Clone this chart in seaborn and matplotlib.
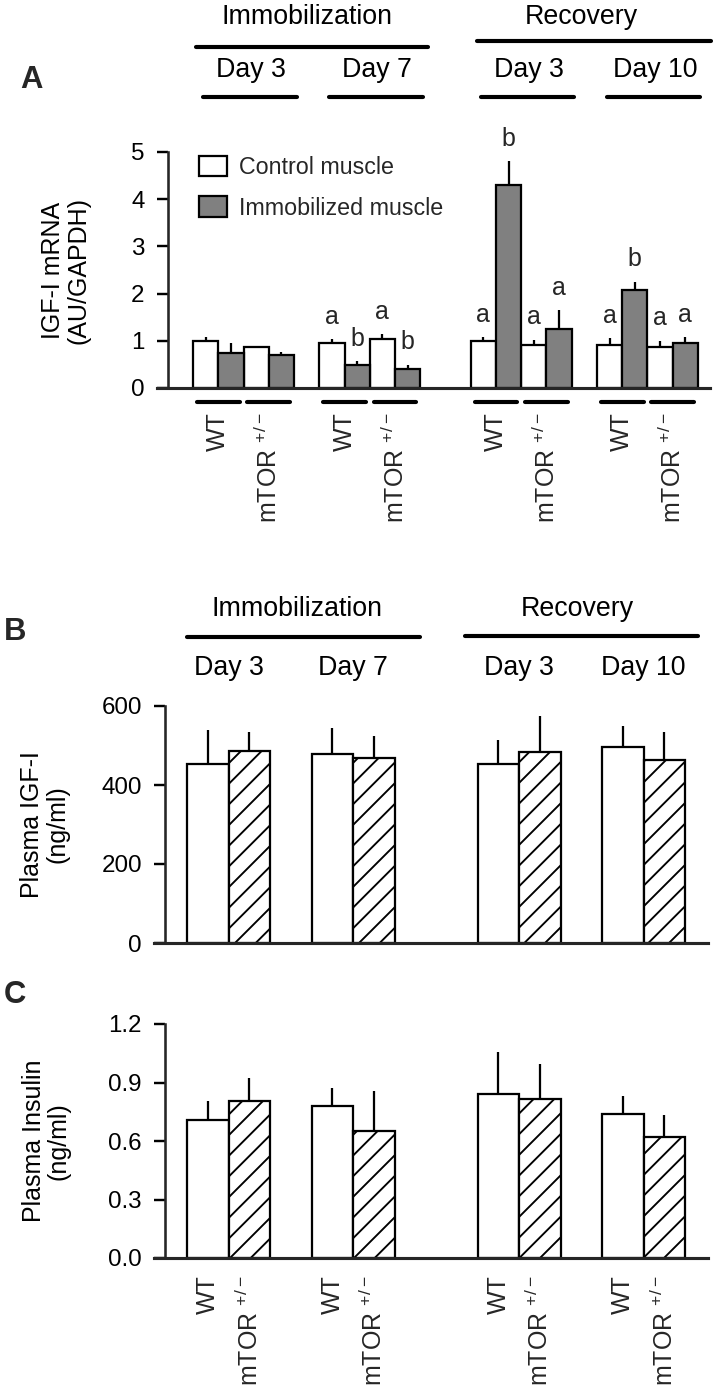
import matplotlib
matplotlib.use("Agg")
import matplotlib.pyplot as plt
import seaborn as sns
import pandas as pd
from matplotlib import font_manager
from matplotlib.patches import Patch
from matplotlib.transforms import blended_transform_factory

# ---- data ----
periods = ["Immobilization", "Recovery"]
days = ["Day 3", "Day 7", "Day 3", "Day 10"]
genotypes = ["WT", "mTOR $^{+/-}$"]
conditions = ["Control muscle", "Immobilized muscle"]

# A: IGF-I mRNA, order = (day, genotype): D3 WT, D3 mTOR, D7 WT, D7 mTOR, R3 WT, R3 mTOR, R10 WT, R10 mTOR
mrna_ctrl = [1.00, 0.87, 0.96, 1.03, 0.99, 0.92, 0.92, 0.86]
mrna_ctrl_err = [0.08, 0.03, 0.07, 0.11, 0.09, 0.10, 0.14, 0.14]
mrna_immob = [0.74, 0.70, 0.49, 0.40, 4.31, 1.24, 2.08, 0.96]
mrna_immob_err = [0.21, 0.07, 0.08, 0.09, 0.49, 0.41, 0.17, 0.12]
mrna_ctrl_letters = ["", "", "a", "a", "a", "a", "a", "a"]
mrna_immob_letters = ["", "", "b", "b", "b", "a", "b", "a"]

# B: plasma IGF-I (ng/ml), one value per day
igf_wt = [453, 478, 453, 495]
igf_wt_err = [85, 67, 62, 54]
igf_mtor = [485, 468, 484, 463]
igf_mtor_err = [48, 57, 90, 72]

# C: plasma insulin (ng/ml)
ins_wt = [0.71, 0.78, 0.84, 0.74]
ins_wt_err = [0.095, 0.093, 0.216, 0.092]
ins_mtor = [0.806, 0.649, 0.814, 0.62]
ins_mtor_err = [0.116, 0.207, 0.183, 0.114]

# ---- style ----
W, H, DPI = 718, 1392, 124
sns.set_theme(style="ticks")
names = {f.name for f in font_manager.fontManager.ttflist}
NARROW = "Liberation Sans Narrow" if "Liberation Sans Narrow" in names else "Liberation Sans"
HEAD = 15.5 if NARROW == "Liberation Sans" else 17.5
LEG = 13.5 if NARROW == "Liberation Sans" else 15.5
plt.rcParams["font.family"] = ["Liberation Sans", "DejaVu Sans"]
plt.rcParams["mathtext.fontset"] = "custom"
plt.rcParams["mathtext.rm"] = "Liberation Sans"
plt.rcParams["mathtext.default"] = "rm"
plt.rcParams["hatch.linewidth"] = 1.1
plt.rcParams["hatch.color"] = "black"

fig = plt.figure(figsize=(W / DPI, H / DPI), dpi=DPI)
fig.patch.set_facecolor("white")


def box(left, right, top, bottom):
    return [left / W, 1 - bottom / H, (right - left) / W, (bottom - top) / H]


def fy(ypx):
    return 1 - ypx / H


def style_axis(ax, spine_x, ymax, yticks, ylabel, label_x, fmt="{:g}"):
    ax.set_facecolor("white")
    sns.despine(ax=ax)
    ax.spines["left"].set_position(("data", spine_x))
    ax.spines["left"].set_bounds(0, ymax)
    ax.spines["left"].set_linewidth(1.5)
    ax.spines["bottom"].set_linewidth(1.8)
    ax.set_ylim(0, ymax)
    ax.set_yticks(yticks)
    ax.set_yticklabels([fmt.format(t) for t in yticks])
    ax.tick_params(axis="y", direction="out", length=6.5, width=1.4, pad=7,
                   labelsize=14, colors="black")
    ax.set_ylabel(ylabel, fontsize=14.5, linespacing=1.05, color="black")
    ax.yaxis.set_label_coords(label_x, 0.5)
    ax.set_xlabel("")


def header(ax, xs, ypx, labels, size):
    tr = blended_transform_factory(ax.transData, fig.transFigure)
    for x, lab in zip(xs, labels):
        ax.text(x, fy(ypx), lab, transform=tr, ha="center", va="center",
                fontsize=size, family=NARROW, color="black")


def hline(ax, x0, x1, ypx, lw=2.4):
    tr = blended_transform_factory(ax.transData, fig.transFigure)
    ax.plot([x0, x1], [fy(ypx), fy(ypx)], transform=tr, color="black", lw=lw,
            solid_capstyle="round", clip_on=False)


# ================= Panel A =================
A_STARTS = [0, 5, 11, 16]
rows = []
for d in range(4):
    for g in range(2):
        i = d * 2 + g
        for c, (vals, errs, lets) in enumerate([(mrna_ctrl, mrna_ctrl_err, mrna_ctrl_letters),
                                                (mrna_immob, mrna_immob_err, mrna_immob_letters)]):
            rows.append(dict(pos=A_STARTS[d] + 2 * g + c + 0.5, value=vals[i], err=errs[i],
                             condition=conditions[c], letter=lets[i]))
dfa = pd.DataFrame(rows)

axA = fig.add_axes(box(157, 710, 152, 388))
sns.barplot(data=dfa, x="pos", y="value", hue="condition", hue_order=conditions,
            palette={"Control muscle": "white", "Immobilized muscle": "#808080"},
            native_scale=True, width=1, dodge=False, errorbar=None, saturation=1,
            edgecolor="black", linewidth=1.3, legend=False, ax=axA)
axA.vlines(dfa["pos"], dfa["value"], dfa["value"] + dfa["err"], color="black", lw=1.3, zorder=3)
for _, r in dfa.iterrows():
    if r["letter"]:
        axA.annotate(r["letter"], (r["pos"], r["value"] + r["err"]), xytext=(0, 13),
                     textcoords="offset points", ha="center", va="center",
                     fontsize=14.5, family=NARROW)
axA.set_xlim(-1.43, 20.48)
style_axis(axA, -1.0, 5, [0, 1, 2, 3, 4, 5], "IGF-I mRNA\n(AU/GAPDH)", -0.121)
pair_centers = [s + 1 + 2 * g for s in A_STARTS for g in range(2)]
axA.set_xticks(pair_centers)
axA.set_xticklabels(genotypes * 4)
axA.tick_params(axis="x", length=0, pad=14, labelsize=14.5, labelrotation=90)
for c in pair_centers:
    axA.plot([c - 0.85, c + 0.85], [-0.059, -0.059], transform=axA.get_xaxis_transform(),
             color="black", lw=2.4, solid_capstyle="round", clip_on=False)
# headers
header(axA, [4.5, 15.4], 17, periods, HEAD)
hline(axA, 0.1, 9.3, 47)
hline(axA, 11.25, 20.5, 41)
header(axA, [s + 2.3 for s in A_STARTS], 70, days, HEAD)
for s in A_STARTS:
    hline(axA, s + 0.4, s + 4.1, 97)
leg_handles = [Patch(facecolor="white", edgecolor="black", linewidth=1.3),
               Patch(facecolor="#808080", edgecolor="black", linewidth=1.3)]
axA.legend(leg_handles, conditions, loc="upper left", bbox_to_anchor=(0.076, 0.985),
           frameon=False, prop={"family": NARROW, "size": LEG}, handlelength=1.2,
           handleheight=1.0, handletextpad=0.5, labelspacing=0.75, borderpad=0,
           borderaxespad=0)
fig.text(31 / W, fy(80), "A", ha="center", va="center", fontsize=18, fontweight="bold",
         family=NARROW)

# ================= Panels B and C =================
P_STARTS = [0, 3, 7, 10]


def pair_frame(wt, wt_err, mt, mt_err):
    out = []
    for d in range(4):
        out.append(dict(pos=P_STARTS[d] + 0.5, value=wt[d], err=wt_err[d], genotype="WT"))
        out.append(dict(pos=P_STARTS[d] + 1.5, value=mt[d], err=mt_err[d], genotype="mTOR"))
    return pd.DataFrame(out)


def pair_bars(ax, df):
    sns.barplot(data=df, x="pos", y="value", hue="genotype", hue_order=["WT", "mTOR"],
                palette={"WT": "white", "mTOR": "white"}, native_scale=True, width=1,
                dodge=False, errorbar=None, saturation=1, edgecolor="black",
                linewidth=1.3, legend=False, ax=ax)
    for p in ax.containers[1]:
        p.set_hatch("//")
    ax.vlines(df["pos"], df["value"], df["value"] + df["err"], color="black", lw=1.3, zorder=3)
    ax.set_xlim(-0.8, 12.55)


dfb = pair_frame(igf_wt, igf_wt_err, igf_mtor, igf_mtor_err)
axB = fig.add_axes(box(154, 708, 706, 943))
pair_bars(axB, dfb)
style_axis(axB, -0.53, 600, [0, 200, 400, 600], "Plasma IGF-I\n(ng/ml)", -0.153)
axB.set_xticks([])
header(axB, [2.65, 9.4], 609, periods, HEAD)
hline(axB, 0.0, 5.6, 637)
hline(axB, 6.7, 12.3, 636)
header(axB, [s + 1 for s in P_STARTS], 668, days, HEAD)
fig.text(15 / W, fy(632), "B", ha="center", va="center", fontsize=18, fontweight="bold",
         family=NARROW)

dfc = pair_frame(ins_wt, ins_wt_err, ins_mtor, ins_mtor_err)
axC = fig.add_axes(box(154, 708, 1024, 1258))
pair_bars(axC, dfc)
style_axis(axC, -0.53, 1.2, [0.0, 0.3, 0.6, 0.9, 1.2], "Plasma Insulin\n(ng/ml)", -0.150,
           fmt="{:.1f}")
axC.set_xticks(dfc["pos"])
axC.set_xticklabels(genotypes * 4)
axC.tick_params(axis="x", length=0, pad=10, labelsize=14.5, labelrotation=90)
fig.text(15 / W, fy(995), "C", ha="center", va="center", fontsize=18, fontweight="bold",
         family=NARROW)

fig.savefig("out.png", dpi=DPI, facecolor="white")
